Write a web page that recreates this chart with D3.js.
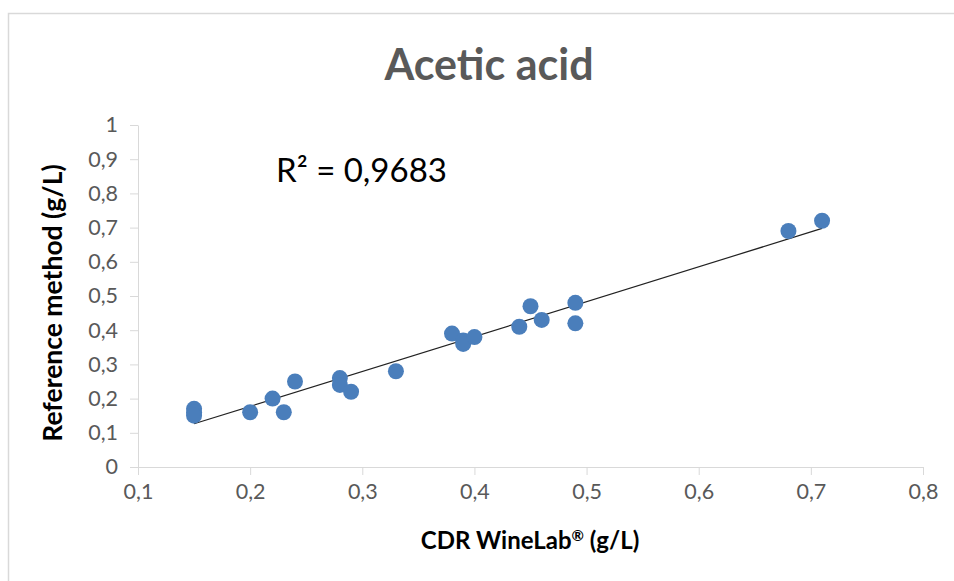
<!DOCTYPE html>
<html>
	<head>
		<meta http-equiv="Content-Type" content="text/html;charset=utf-8"/>
		<title>Acetic acid</title>
		<script src="https://d3js.org/d3.v7.min.js"></script>
		<style type="text/css">
			body { margin: 0; background: #fff; }
			text { font-family: Lato, "Open Sans", sans-serif; }
			.axis path, .axis line { stroke: #d9d9d9; }
			.axis text { fill: #595959; font-size: 21.5px; }
			.dot { fill: #4a7ebb; }
		</style>
	</head>
	<body>
		<script type="text/javascript">

			//Values
			var cdr = [0.15, 0.15, 0.15, 0.20, 0.22, 0.23, 0.24, 0.28, 0.28, 0.29, 0.33,
				0.38, 0.39, 0.39, 0.40, 0.44, 0.45, 0.46, 0.49, 0.49, 0.68, 0.71];
			var ref = [0.17, 0.16, 0.15, 0.16, 0.20, 0.16, 0.25, 0.26, 0.24, 0.22, 0.28,
				0.39, 0.37, 0.36, 0.38, 0.41, 0.47, 0.43, 0.48, 0.42, 0.69, 0.72];
			var xTicks = [0.1, 0.2, 0.3, 0.4, 0.5, 0.6, 0.7, 0.8];
			var yTicks = [0, 0.1, 0.2, 0.3, 0.4, 0.5, 0.6, 0.7, 0.8, 0.9, 1];
			var rSquared = "0,9683";

			var w = 954,
				h = 581;

			var svg = d3.select("body").append("svg")
				.attr("width", w)
				.attr("height", h);

			//Chart frame (only top and left edges show in the picture)
			svg.append("path")
				.attr("d", "M8.5," + h + "V13.5H" + w)
				.attr("fill", "none")
				.attr("stroke", "#d9d9d9")
				.attr("stroke-width", 1.5);

			var xScale = d3.scaleLinear().domain([0.1, 0.8]).range([138, 923]);
			var yScale = d3.scaleLinear().domain([0, 1]).range([467, 125]);

			var comma = function(d) { return String(d).replace(".", ","); };

			svg.append("g")
				.attr("class", "axis")
				.attr("transform", "translate(0," + yScale(0) + ")")
				.call(d3.axisBottom(xScale).tickValues(xTicks).tickFormat(comma)
					.tickSizeInner(8).tickSizeOuter(0).tickPadding(9));

			svg.append("g")
				.attr("class", "axis")
				.attr("transform", "translate(" + xScale(0.1) + ",0)")
				.call(d3.axisLeft(yScale).tickValues(yTicks).tickFormat(comma)
					.tickSizeInner(8).tickSizeOuter(0).tickPadding(12));

			//Linear trendline from least squares
			var mx = d3.mean(cdr),
				my = d3.mean(ref);
			var slope = d3.sum(cdr, function(d, i) { return (d - mx) * (ref[i] - my); }) /
				d3.sum(cdr, function(d) { return (d - mx) * (d - mx); });
			var icpt = my - slope * mx;
			var x0 = d3.min(cdr), x1 = d3.max(cdr);

			svg.append("line")
				.attr("x1", xScale(x0)).attr("y1", yScale(icpt + slope * x0))
				.attr("x2", xScale(x1)).attr("y2", yScale(icpt + slope * x1))
				.attr("stroke", "#222")
				.attr("stroke-width", 1.2);

			svg.selectAll("circle.dot")
				.data(cdr)
				.enter()
				.append("circle")
				.attr("class", "dot")
				.attr("cx", function(d) { return xScale(d); })
				.attr("cy", function(d, i) { return yScale(ref[i]); })
				.attr("r", 8);

			//Trendline label
			svg.append("text")
				.attr("x", 276).attr("y", 182)
				.attr("font-size", 33)
				.attr("fill", "#000")
				.text("R² = " + rSquared);

			//Titles
			svg.append("text")
				.attr("x", 489).attr("y", 80)
				.attr("text-anchor", "middle")
				.attr("font-size", 43)
				.attr("font-weight", "bold")
				.attr("fill", "#595959")
				.text("Acetic acid");

			var xt = svg.append("text")
				.attr("x", 530).attr("y", 549)
				.attr("text-anchor", "middle")
				.attr("font-size", 24)
				.attr("font-weight", "bold")
				.attr("fill", "#000");
			xt.append("tspan").text("CDR WineLab");
			xt.append("tspan").attr("font-size", 15).attr("dy", -8).text("®");
			xt.append("tspan").attr("dy", 8).text(" (g/L)");

			svg.append("text")
				.attr("transform", "translate(62,303) rotate(-90)")
				.attr("text-anchor", "middle")
				.attr("font-size", 26.5)
				.attr("font-weight", "bold")
				.attr("fill", "#000")
				.text("Reference method (g/L)");

		</script>
	</body>
</html>
